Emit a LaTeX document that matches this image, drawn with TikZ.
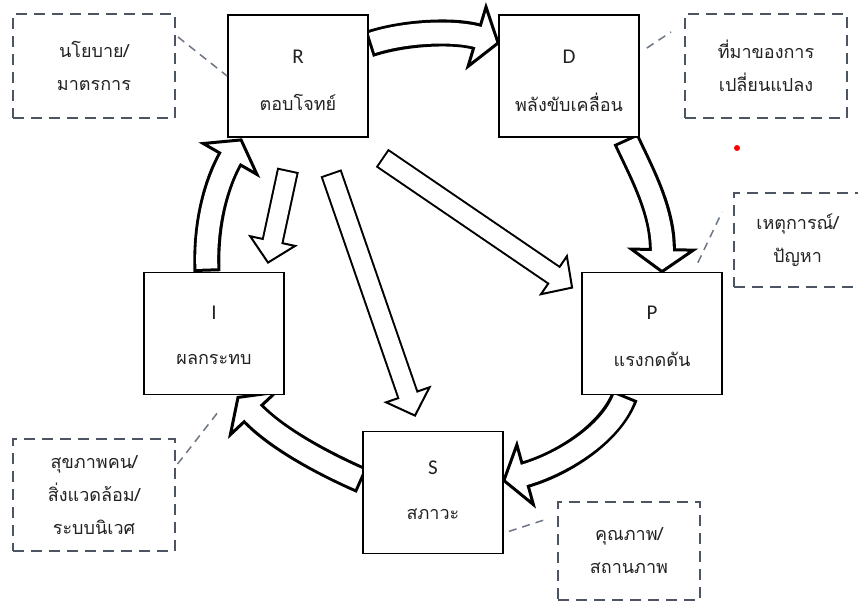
\documentclass[tikz,border=0pt]{standalone}
\usepackage{fontspec}
\setmainfont{Carlito}
\newfontfamily\thaifont[Script=Thai]{Loma}
\usetikzlibrary{calc,decorations.markings}
\pgfdeclarelayer{bg}
\pgfsetlayers{bg,main}
\definecolor{notec}{HTML}{4E5562}
\definecolor{linkc}{HTML}{6E7684}
\definecolor{txtc}{HTML}{222222}

\newcommand\bigarrow[1]{%
  \draw[black, line width=27pt, shorten >=21pt] #1;
  \path[decorate, decoration={markings, mark=at position 1 with {\filldraw[fill=white, draw=black, line width=3pt, line join=miter] (0,0) -- (-22,31) -- (-22,-31) -- cycle;}}] #1;
  \draw[white, line width=21pt, shorten >=19pt, shorten <=3pt] #1;
}
\newcommand\thinarrow[1]{%
  \draw[black, line width=22pt, shorten >=21pt] #1;
  \path[decorate, decoration={markings, mark=at position 1 with {\filldraw[fill=white, draw=black, line width=2pt, line join=miter] (0,0) -- (-22,23) -- (-22,-23) -- cycle;}}] #1;
  \draw[white, line width=18pt, shorten >=20pt, shorten <=2pt] #1;
}

\begin{document}
\begin{tikzpicture}[x=1pt,y=-1pt,
  box/.style={draw=black, line width=1.8pt, fill=white, minimum width=140pt, minimum height=122pt, inner sep=0pt},
  note/.style={draw=notec, line width=2pt, dash pattern=on 11pt off 7pt, inner sep=0pt, align=center,
    font=\thaifont\fontsize{18}{33}\selectfont, text=txtc},
  lett/.style={font=\fontsize{21}{24}\selectfont, text=txtc, inner sep=0pt},
  thb/.style={font=\thaifont\fontsize{18}{22}\selectfont, text=txtc, inner sep=0pt},
  link/.style={draw=linkc, line width=1.5pt, dash pattern=on 8pt off 6pt},
]
\useasboundingbox (0,0) rectangle (858,603);

% main boxes
\node[box] (R) at (298,76) {};
\node[box] (D) at (569,76) {};
\node[box] (P) at (652,333.5) {};
\node[box] (S) at (433,492.5) {};
\node[box] (I) at (214,333.5) {};

\node[lett] (Rt) at ($(R.center)+(0,-19)$) {R};
\node[thb] (Rth) at ($(R.center)+(0,26)$) {ตอบโจทย์};
\node[lett] (Dt) at ($(D.center)+(0,-19)$) {D};
\node[thb] (Dth) at ($(D.center)+(0,26)$) {พลังขับเคลื่อน};
\node[lett] (Pt) at ($(P.center)+(0,-21)$) {P};
\node[thb] (Pth) at ($(P.center)+(0,26)$) {แรงกดดัน};
\node[lett] (St) at ($(S.center)+(0,-25)$) {S};
\node[thb] (Sth) at ($(S.center)+(0,22)$) {สภาวะ};
\node[lett] (It) at ($(I.center)+(0,-21)$) {I};
\node[thb] (Ith) at ($(I.center)+(0,26)$) {ผลกระทบ};

% note boxes
\node[note, minimum width=162pt, minimum height=104pt] (pol) at (94,66) {นโยบาย/\\มาตรการ};
\node[note, minimum width=162pt, minimum height=104pt] (chg) at (766,66) {ที่มาของการ\\เปลี่ยนแปลง};
\node[note, minimum width=127pt, minimum height=94pt] (evt) at (797.5,240) {เหตุการณ์/\\ปัญหา};
\node[note, minimum width=162pt, minimum height=112pt] (hea) at (94,495) {สุขภาพคน/\\สิ่งแวดล้อม/\\ระบบนิเวศ};
\node[note, minimum width=142pt, minimum height=98pt] (qua) at (629,551) {คุณภาพ/\\สถานภาพ};

% dashed links
\draw[link] ($(pol.north east)+(2,24)$) -- (R.west);
\draw[link] ($(D.east)+(7,-28)$) -- ($(chg.north west)+(-13,19)$);
\draw[link] ($(P.north east)+(-25,-9)$) -- ($(evt.north west)+(-11,20)$);
\draw[link] ($(I.south)+(3,18)$) -- ($(hea.north east)+(0,28)$);
\draw[link] ($(S.south east)+(5,-23)$) -- ($(qua.north west)+(-10,18)$);

\fill[red] (737,148) circle (3);

\begin{pgfonlayer}{bg}
\fill[white] (0,0) rectangle (858,603);
% cycle arrows
\bigarrow{($(R.east)+(0,-32)$) .. controls (405,32) and (455,30) .. ($(D.west)+(0,-33)$)}
\bigarrow{($(D.south east)+(-14,1)$) .. controls (640,170) and (663,210) .. ($(P.north)+(10,0)$)}
\bigarrow{($(P.south)+(-27,0)$) .. controls (610,435) and (560,465) .. ($(S.east)+(0,-12)$)}
\bigarrow{($(S.west)+(0,-12)$) .. controls (320,462) and (275,437) .. ($(I.south)+(24,2)$)}
\bigarrow{($(I.north)+(-7,0)$) .. controls (205,220) and (218,180) .. ($(R.south west)+(14,2)$)}
% response arrows
\thinarrow{($(R.south)+(-10,32)$) -- ($(I.north)+(54,-9)$)}
\thinarrow{($(R.south)+(33,35)$) -- ($(S.north)+(-18,-15)$)}
\thinarrow{($(R.south)+(84,20)$) -- ($(P.north west)+(-9,16)$)}
\end{pgfonlayer}
\end{tikzpicture}
\end{document}
